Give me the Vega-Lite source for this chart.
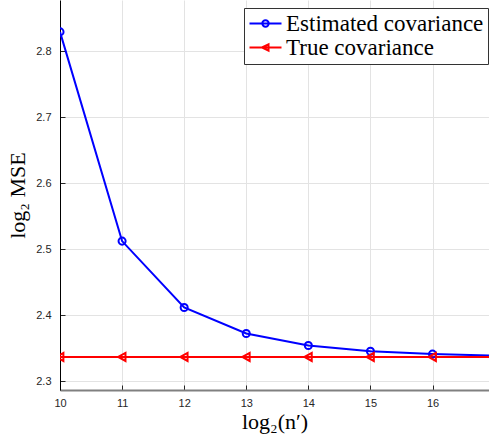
{
  "$schema": "https://vega.github.io/schema/vega-lite/v6.json",
  "width": 429,
  "height": 390,
  "autosize": {"type": "none"},
  "padding": {"left": 60, "top": 0, "right": 0, "bottom": 45},
  "background": "white",
  "config": {
    "view": {"stroke": null},
    "axis": {
      "grid": true,
      "gridColor": "#e3e3e3",
      "gridWidth": 1,
      "labelFont": "Liberation Sans",
      "labelFontSize": 11,
      "labelColor": "#262626",
      "labelFlush": false,
      "tickColor": "#262626",
      "tickSize": -5,
      "titleFont": "Liberation Serif",
      "titleFontSize": 22,
      "titleFontWeight": "normal",
      "titleColor": "black"
    },
    "legend": {
      "orient": "none",
      "legendX": 184,
      "legendY": 8,
      "padding": 4,
      "strokeColor": "#333333",
      "fillColor": "white",
      "cornerRadius": 0,
      "symbolSize": 400,
      "symbolStrokeWidth": 2,
      "symbolFillColor": "transparent",
      "labelFont": "Liberation Serif",
      "labelFontSize": 23,
      "labelColor": "black",
      "labelOffset": 15,
      "rowPadding": 0,
      "labelLimit": 400
    }
  },
  "data": {
    "values": [
      {"x": 10, "series": "Estimated covariance", "y": 2.829},
      {"x": 11, "series": "Estimated covariance", "y": 2.512},
      {"x": 12, "series": "Estimated covariance", "y": 2.4115},
      {"x": 13, "series": "Estimated covariance", "y": 2.372},
      {"x": 14, "series": "Estimated covariance", "y": 2.3537},
      {"x": 15, "series": "Estimated covariance", "y": 2.3452},
      {"x": 16, "series": "Estimated covariance", "y": 2.3408},
      {"x": 17, "series": "Estimated covariance", "y": 2.3383},
      {"x": 10, "series": "True covariance", "y": 2.3365},
      {"x": 11, "series": "True covariance", "y": 2.3365},
      {"x": 12, "series": "True covariance", "y": 2.3365},
      {"x": 13, "series": "True covariance", "y": 2.3365},
      {"x": 14, "series": "True covariance", "y": 2.3365},
      {"x": 15, "series": "True covariance", "y": 2.3365},
      {"x": 16, "series": "True covariance", "y": 2.3365},
      {"x": 17, "series": "True covariance", "y": 2.3365}
    ]
  },
  "encoding": {
    "x": {
      "field": "x",
      "type": "quantitative",
      "scale": {"domain": [10, 16.91], "nice": false, "zero": false},
      "axis": {
        "values": [10, 11, 12, 13, 14, 15, 16],
        "title": "log₂(n′)",
        "domainColor": "#808080",
        "domainWidth": 2,
        "labelPadding": 12,
        "titlePadding": 3
      }
    },
    "y": {
      "field": "y",
      "type": "quantitative",
      "scale": {"domain": [2.2864, 2.8773], "nice": false, "zero": false},
      "axis": {
        "values": [2.3, 2.4, 2.5, 2.6, 2.7, 2.8],
        "format": ".1f",
        "title": "log₂ MSE",
        "domainColor": "black",
        "domainWidth": 1,
        "labelPadding": 14,
        "titlePadding": 6
      }
    },
    "color": {
      "field": "series",
      "type": "nominal",
      "scale": {"domain": ["Estimated covariance", "True covariance"], "range": ["#0000ff", "#ff0000"]},
      "legend": {"title": null}
    }
  },
  "layer": [
    {"mark": {"type": "line", "strokeWidth": 2, "clip": true}},
    {
      "transform": [{"filter": "datum.series === 'Estimated covariance'"}],
      "mark": {"type": "point", "filled": false, "strokeWidth": 2, "size": 50, "opacity": 1, "shape": "circle", "clip": true}
    },
    {
      "transform": [{"filter": "datum.series === 'True covariance'"}],
      "mark": {"type": "point", "filled": false, "strokeWidth": 2, "size": 72, "opacity": 1, "shape": "M-0.9,0L0.8,-0.95L0.8,0.95Z", "clip": true}
    },
    {
      "transform": [{"filter": "false"}],
      "mark": {"type": "point", "filled": false, "strokeWidth": 2, "opacity": 1, "clip": true},
      "encoding": {
        "shape": {
          "field": "series",
          "type": "nominal",
          "scale": {
            "domain": ["Estimated covariance", "True covariance"],
            "range": [
              "M-1,0L2.2,0M0.28,0A0.32,0.32,0,1,1,0.92,0A0.32,0.32,0,1,1,0.28,0",
              "M-1,0L2.2,0M0.25,0L0.9,-0.32L0.9,0.32Z"
            ]
          },
          "legend": {"title": null}
        }
      }
    }
  ]
}
